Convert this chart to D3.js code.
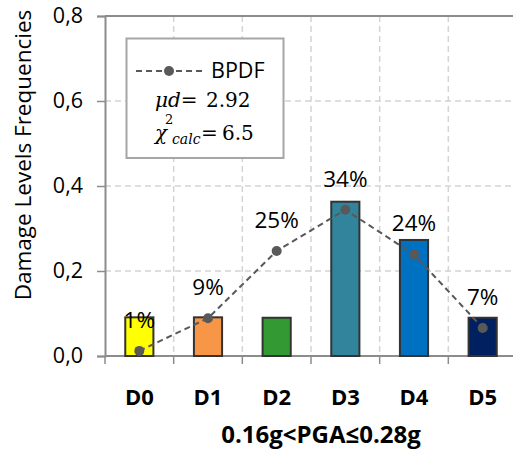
<!DOCTYPE html>
<html>
<head>
<meta charset="utf-8">
<script src="https://cdn.jsdelivr.net/npm/d3@7"></script>
<style>
  html, body { margin: 0; padding: 0; background: #fff; }
  svg { display: block; }
</style>
</head>
<body>
<svg id="chart" width="513" height="457"></svg>
<script>
// Damage level categories and observed frequencies (bars)
const categories = ["D0", "D1", "D2", "D3", "D4", "D5"];
const observed = [0.091, 0.091, 0.09, 0.363, 0.273, 0.09];
// Binomial PDF fit (dashed line with markers); labels show these as percent
const bpdf = [0.012, 0.089, 0.247, 0.344, 0.239, 0.066];
const barColors = ["#FFFF00", "#F79646", "#339933", "#31849B", "#0070C0", "#002060"];
const yTicks = [0, 0.2, 0.4, 0.6, 0.8];
const xTitle = "0.16g<PGA≤0.28g";
const yTitle = "Damage Levels Frequencies";
const muD = "2.92";
const chiCalc = "6.5";

const svg = d3.select("#chart");
const sans = "'Open Sans', 'Noto Sans', sans-serif";
const serif = "'DejaVu Serif', 'Liberation Serif', serif";

const x = d3.scaleBand().domain(categories).range([105, 517]).padding(0);
const y = d3.scaleLinear().domain([0, 0.8]).range([356, 16]);
const barW = x.bandwidth() * 0.41;

// Grid
const grid = svg.append("g");
grid.selectAll("line.h").data(yTicks.filter(t => t > 0 && t < 0.8)).join("line")
  .attr("x1", 105).attr("x2", 517)
  .attr("y1", d => y(d)).attr("y2", d => y(d))
  .attr("stroke", "#d4d4d4").attr("stroke-width", 1.5).attr("stroke-dasharray", "6,4");
grid.selectAll("line.v").data(categories.slice(1)).join("line")
  .attr("x1", d => x(d)).attr("x2", d => x(d))
  .attr("y1", y(0.8)).attr("y2", y(0))
  .attr("stroke", "#d4d4d4").attr("stroke-width", 1.5).attr("stroke-dasharray", "6,4");
grid.append("line")
  .attr("x1", 105).attr("x2", 517).attr("y1", y(0.8)).attr("y2", y(0.8))
  .attr("stroke", "#8c8c8c").attr("stroke-width", 2);

// Y axis
const yAxis = d3.axisLeft(y).tickValues(yTicks).tickSize(8).tickPadding(14)
  .tickFormat(d => d3.format(".1f")(d).replace(".", ","));
const gy = svg.append("g").attr("transform", "translate(105,0)").call(yAxis);
gy.select(".domain").attr("stroke", "#8c8c8c").attr("stroke-width", 2);
gy.selectAll(".tick line").attr("stroke", "#8c8c8c").attr("stroke-width", 1.5);
gy.selectAll(".tick text").attr("font-family", sans).attr("font-size", 21.5).attr("fill", "#000");

// X axis: ticks at category boundaries
const gx = svg.append("g").attr("transform", `translate(0,${y(0)})`);
gx.append("line").attr("x1", 105).attr("x2", 517).attr("stroke", "#8c8c8c").attr("stroke-width", 2);
gx.selectAll("line.tk").data(categories).join("line")
  .attr("x1", d => x(d)).attr("x2", d => x(d)).attr("y1", 0).attr("y2", 8)
  .attr("stroke", "#8c8c8c").attr("stroke-width", 1.5);
gx.selectAll("text").data(categories).join("text")
  .attr("x", d => x(d) + x.bandwidth() / 2).attr("y", 49)
  .attr("text-anchor", "middle").attr("font-family", sans).attr("font-weight", "bold")
  .attr("font-size", 22).attr("fill", "#000").text(d => d);

// Bars
svg.append("g").selectAll("rect").data(categories).join("rect")
  .attr("x", d => x(d) + x.bandwidth() / 2 - barW / 2)
  .attr("y", (d, i) => y(observed[i]))
  .attr("width", barW)
  .attr("height", (d, i) => y(0) - y(observed[i]))
  .attr("fill", (d, i) => barColors[i])
  .attr("stroke", "#333").attr("stroke-width", 2);

// BPDF line with markers
const cx = d => x(d) + x.bandwidth() / 2;
const line = d3.line().x((d, i) => cx(categories[i])).y(d => y(d));
svg.append("path").datum(bpdf).attr("d", line)
  .attr("fill", "none").attr("stroke", "#595959").attr("stroke-width", 2).attr("stroke-dasharray", "6,4");
svg.append("g").selectAll("circle").data(bpdf).join("circle")
  .attr("cx", (d, i) => cx(categories[i])).attr("cy", d => y(d)).attr("r", 5)
  .attr("fill", "#595959");

// Percent labels
svg.append("g").selectAll("text").data(bpdf).join("text")
  .attr("x", (d, i) => cx(categories[i]))
  .attr("y", d => y(d) - 23)
  .attr("text-anchor", "middle").attr("font-family", sans).attr("font-size", 22.5).attr("fill", "#000")
  .text(d => d3.format(".0%")(d));

// Axis titles
svg.append("text")
  .attr("transform", `translate(31,${(y(0) + y(0.8)) / 2 - 31}) rotate(-90)`)
  .attr("text-anchor", "middle").attr("font-family", sans).attr("font-size", 22.5).attr("fill", "#000")
  .text(yTitle);
svg.append("text")
  .attr("x", 321).attr("y", 443)
  .attr("text-anchor", "middle").attr("font-family", sans).attr("font-weight", "bold")
  .attr("font-size", 24).attr("fill", "#000").text(xTitle);

// Legend box
const lg = svg.append("g");
lg.append("rect").attr("x", 126.5).attr("y", 38.5).attr("width", 157).attr("height", 119.5)
  .attr("fill", "#fff").attr("stroke", "#a6a6a6").attr("stroke-width", 2);
lg.append("line").attr("x1", 136).attr("x2", 202).attr("y1", 71).attr("y2", 71)
  .attr("stroke", "#595959").attr("stroke-width", 2).attr("stroke-dasharray", "6,4");
lg.append("circle").attr("cx", 169).attr("cy", 71).attr("r", 5).attr("fill", "#595959");
lg.append("text").attr("x", 211).attr("y", 78).attr("font-family", sans).attr("font-size", 21.5)
  .attr("fill", "#000").text("BPDF");

// Fit statistics: mean damage and chi-square
const t1 = lg.append("text").attr("x", 155).attr("y", 107)
  .attr("font-family", serif).attr("font-size", 20).attr("fill", "#000");
t1.append("tspan").attr("font-style", "italic").text("μd");
t1.append("tspan").text("=");
t1.append("tspan").attr("x", 206).text(muD);

const t2 = lg.append("text").attr("x", 155).attr("y", 140)
  .attr("font-family", serif).attr("font-size", 20).attr("fill", "#000");
t2.append("tspan").attr("font-style", "italic").text("χ");
t2.append("tspan").attr("x", 165).attr("y", 124).attr("font-size", 13).text("2");
t2.append("tspan").attr("x", 172).attr("y", 144).attr("font-style", "italic").attr("font-size", 14).text("calc");
t2.append("tspan").attr("x", 201).attr("y", 140).text("=");
t2.append("tspan").attr("x", 222).attr("y", 140).text(chiCalc);
</script>
</body>
</html>
